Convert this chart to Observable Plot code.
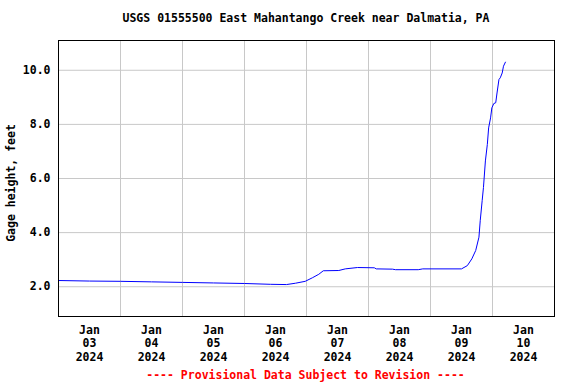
<!DOCTYPE html>
<html>
<head>
<meta charset="utf-8">
<script src="https://cdn.jsdelivr.net/npm/d3@7"></script>
<script src="https://cdn.jsdelivr.net/npm/@observablehq/plot@0.6"></script>
<style>
  body { margin: 0; background: #fff; width: 576px; height: 384px; overflow: hidden; }
  .ttl { height: 34px; box-sizing: border-box; padding-left: 36px; overflow: visible;
         text-align: center; font: bold 11.5px "DejaVu Sans Mono", monospace; color: #000; white-space: nowrap; }
  .ttl span { display: block; position: relative; top: 11px; line-height: 14px; }
  .cap { height: 18px; line-height: 18px; padding-left: 35px; text-align: center; position: relative; top: 2px;
         font: bold 11.5px "DejaVu Sans Mono", monospace; color: #ff0000; white-space: nowrap; }
  svg { display: block; }
</style>
</head>
<body>
<div class="ttl"><span>USGS 01555500 East Mahantango Creek near Dalmatia, PA</span></div>
<div id="chart"></div>
<div class="cap">---- Provisional Data Subject to Revision ----</div>
<script>
const times = [
  "2024-01-03T00:00","2024-01-03T12:00","2024-01-04T00:00","2024-01-04T12:00",
  "2024-01-05T00:00","2024-01-05T12:00","2024-01-06T00:00","2024-01-06T10:00",
  "2024-01-06T16:15","2024-01-06T19:45","2024-01-06T23:30","2024-01-07T02:15",
  "2024-01-07T04:45","2024-01-07T06:30","2024-01-07T12:30","2024-01-07T15:00",
  "2024-01-07T19:45","2024-01-08T02:15","2024-01-08T03:00","2024-01-08T09:15",
  "2024-01-08T10:30","2024-01-08T19:15","2024-01-08T21:00","2024-01-09T12:00",
  "2024-01-09T14:15","2024-01-09T16:00","2024-01-09T17:30","2024-01-09T18:45",
  "2024-01-09T19:15","2024-01-09T20:00","2024-01-09T20:30","2024-01-09T21:15",
  "2024-01-09T22:00","2024-01-09T22:30","2024-01-09T23:15","2024-01-09T23:45",
  "2024-01-10T00:30","2024-01-10T01:15","2024-01-10T01:45","2024-01-10T02:30",
  "2024-01-10T03:00","2024-01-10T03:45","2024-01-10T04:15","2024-01-10T05:00"
];
const gageHeight = [
  2.23, 2.21, 2.20, 2.18,
  2.16, 2.14, 2.12, 2.09,
  2.08, 2.13, 2.20, 2.33,
  2.46, 2.59, 2.60, 2.66,
  2.71, 2.70, 2.66, 2.65,
  2.63, 2.63, 2.66, 2.66,
  2.78, 3.03, 3.34, 3.83,
  4.44, 5.18, 5.67, 6.65,
  7.26, 7.87, 8.24, 8.61,
  8.77, 8.80, 9.16, 9.66,
  9.72, 9.90, 10.15, 10.30
];
const dayLabels = ["2024-01-03","2024-01-04","2024-01-05","2024-01-06","2024-01-07","2024-01-08","2024-01-09","2024-01-10"];
const yTicks = [2, 4, 6, 8, 10];
const yLabel = "Gage height, feet";

const parse = s => new Date(s + "Z");
const data = times.map((t, i) => ({date: parse(t), value: gageHeight[i]}));
const labelTicks = dayLabels.map(d => new Date(parse(d + "T00:00").getTime() + 12 * 3600e3));
const gridTicks = dayLabels.slice(1).map(d => parse(d + "T00:00"));
const xStart = parse(dayLabels[0] + "T00:00");
const xEnd = new Date(parse(dayLabels[dayLabels.length - 1] + "T00:00").getTime() + 24 * 3600e3);

const fmt = d3.utcFormat("%b\n%d\n%Y");

const chart = Plot.plot({
  width: 576,
  height: 332,
  marginTop: 6,
  marginBottom: 50,
  marginLeft: 58,
  marginRight: 22,
  style: {fontFamily: "DejaVu Sans Mono, monospace", fontSize: "11.5px", fontWeight: "bold", color: "#000", background: "#fff"},
  x: {type: "utc", domain: [xStart, xEnd]},
  y: {domain: [0.9, 11.1]},
  marks: [
    Plot.gridX(gridTicks, {stroke: "#c8c8c8", strokeOpacity: 1}),
    Plot.gridY(yTicks, {stroke: "#c8c8c8", strokeOpacity: 1}),
    Plot.line(data, {x: "date", y: "value", stroke: "#0000ff", strokeWidth: 1}),
    Plot.frame({stroke: "#000"}),
    Plot.axisX(labelTicks, {tickSize: 0, tickPadding: 8.5, tickFormat: fmt, lineHeight: 1.14, label: null}),
    Plot.axisY(yTicks, {tickSize: 0, tickPadding: 8, tickFormat: d => d.toFixed(1), label: null}),
    Plot.text([yLabel], {frameAnchor: "left", rotate: -90, dx: -47, dy: 4.5, lineAnchor: "middle", textAnchor: "middle", text: d => d})
  ]
});
document.getElementById("chart").appendChild(chart);
</script>
</body>
</html>
